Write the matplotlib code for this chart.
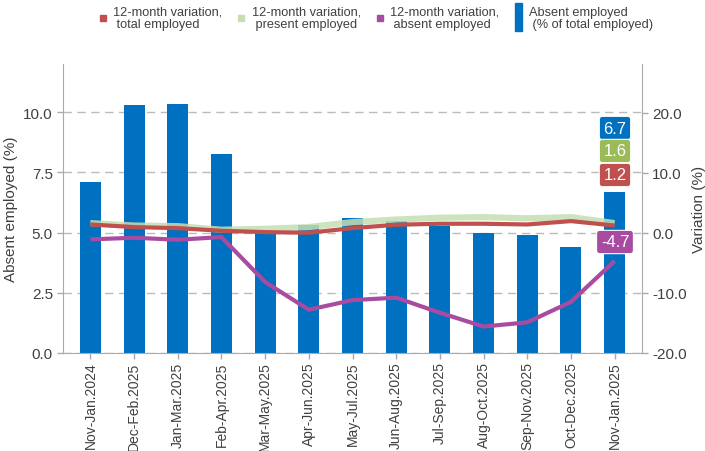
import matplotlib
matplotlib.use("Agg")
import matplotlib.pyplot as plt
from matplotlib.lines import Line2D
from matplotlib.patches import Rectangle
import numpy as np

plt.rcParams['font.family'] = ['Liberation Sans', 'DejaVu Sans']

periods = ["Nov-Jan.2024", "Dec-Feb.2025", "Jan-Mar.2025", "Feb-Apr.2025", "Mar-May.2025",
           "Apr-Jun.2025", "May-Jul.2025", "Jun-Aug.2025", "Jul-Sep.2025", "Aug-Oct.2025",
           "Sep-Nov.2025", "Oct-Dec.2025", "Nov-Jan.2025"]
absent_pct = [7.1, 10.3, 10.33, 8.26, 5.0, 5.3, 5.6, 5.47, 5.27, 5.0, 4.9, 4.4, 6.7]
var_total = [1.38, 0.94, 0.77, 0.33, 0.11, 0.0, 0.77, 1.33, 1.5, 1.5, 1.38, 1.94, 1.2]
var_present = [1.6, 1.2, 1.1, 0.5, 0.66, 0.94, 1.77, 2.2, 2.5, 2.6, 2.4, 2.6, 1.6]
var_absent = [-1.1, -0.83, -1.16, -0.72, -8.2, -12.8, -11.2, -10.8, -13.3, -15.6, -14.9, -11.5, -4.7]

c_bar = "#0070C0"
c_total = "#C0504D"
c_present = "#C5DFB3"
c_present_lbl = "#9BBB59"
c_absent = "#A94CA1"
grey = "#AAAAAA"
txt = "#404040"

fig = plt.figure(figsize=(7.05, 4.52), dpi=100)
ax = fig.add_axes([63.3/705, 1-354/452, (641.7-63.3)/705, (354-65)/452])
ax2 = ax.twinx()

x = np.arange(len(periods))
ax.bar(x, absent_pct, width=0.48, color=c_bar, zorder=2)
ax.set_xlim(-0.62, len(periods) - 1 + 0.62)
ax.set_ylim(0, 12.0)
ax.set_yticks([0, 2.5, 5.0, 7.5, 10.0])
ax.set_yticklabels([f"{v:.1f}" for v in [0, 2.5, 5.0, 7.5, 10.0]])
ax.yaxis.grid(True, linestyle=(0, (6, 4)), color="#BBBBBB", linewidth=1.0, zorder=0)
ax.set_axisbelow(True)
ax.set_xticks(x)
ax.set_xticklabels(periods, rotation=90)
ax.set_ylabel("Absent employed (%)", fontsize=11, color=txt)

ax2.plot(x, var_present, color=c_present, linewidth=4.5, alpha=0.85, zorder=3, solid_capstyle='butt')
ax2.plot(x, var_total, color=c_total, linewidth=3, zorder=4, solid_capstyle='butt')
ax2.plot(x, var_absent, color=c_absent, linewidth=3, zorder=4, solid_capstyle='butt')
ax2.set_ylim(-20, 28.07)
ax2.set_yticks([-20, -10, 0, 10, 20])
ax2.set_yticklabels([f"{v:.1f}" for v in [-20, -10, 0, 10, 20]])
ax2.set_ylabel("Variation (%)", fontsize=11, color=txt)

for a in (ax, ax2):
    a.spines["top"].set_visible(False)
    for s in ["left", "right", "bottom"]:
        a.spines[s].set_color(grey)
    a.tick_params(colors=txt, labelsize=11, length=4, width=1)
    a.tick_params(axis='y', color=grey)
    a.tick_params(axis='x', color=grey, labelsize=10, pad=2)
ax2.spines["bottom"].set_visible(False)
ax2.spines["left"].set_visible(False)
ax.spines["right"].set_visible(False)

labels = [(f"{absent_pct[-1]:.1f}", c_bar, 129),
          (f"{var_present[-1]:.1f}", c_present_lbl, 152),
          (f"{var_total[-1]:.1f}", c_total, 176),
          (f"{var_absent[-1]:.1f}", c_absent, 243)]
for t, c, ypix in labels:
    fig.text(615/705, 1 - ypix/452, t, ha='center', va='center', color='white', fontsize=12,
             bbox=dict(boxstyle='round,pad=0.25,rounding_size=0.2', facecolor=c, edgecolor='white', linewidth=0.8),
             zorder=10)

handles = [Line2D([], [], marker='s', linestyle='None', color=c_total, markersize=4),
           Line2D([], [], marker='s', linestyle='None', color=c_present, markersize=4),
           Line2D([], [], marker='s', linestyle='None', color=c_absent, markersize=4),
           Rectangle((0, 0), 1, 1, color=c_bar)]
names = ["12-month variation,\n total employed", "12-month variation,\n present employed",
         "12-month variation,\n absent employed", "Absent employed\n (% of total employed)"]
leg = fig.legend(handles, names, loc='center', bbox_to_anchor=(376/705, 1 - 19/452), ncol=4,
                 frameon=False, fontsize=9.2, handlelength=0.6, handletextpad=0.5, columnspacing=1.2,
                 labelcolor=txt)
for t in leg.get_texts():
    t.set_linespacing(1.05)
for h in leg.legend_handles:
    if isinstance(h, Rectangle):
        h.set_width(5)
        h.set_height(20)
        h.set_y(-6)

fig.savefig("out.png", dpi=100)
